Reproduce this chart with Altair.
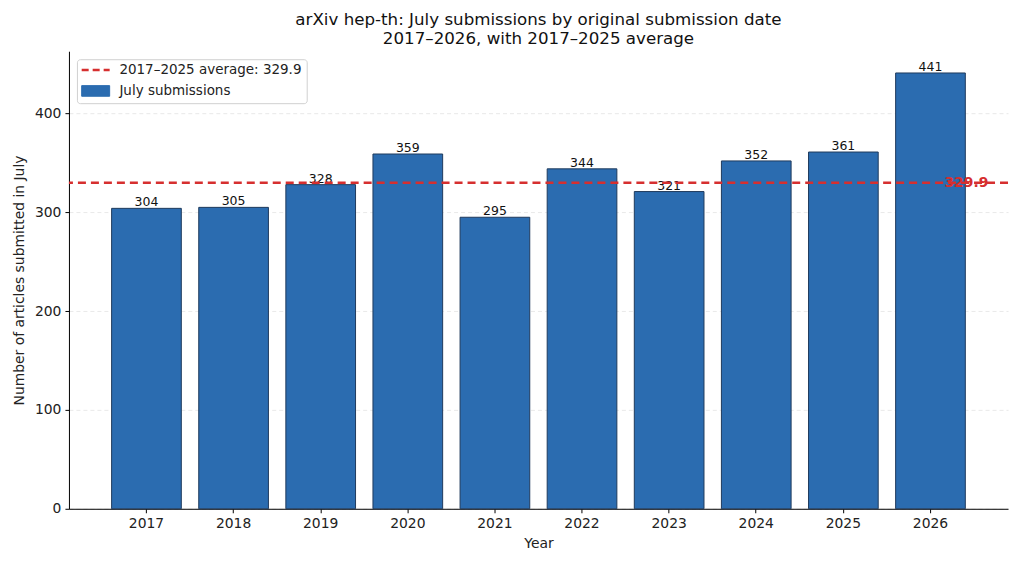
import altair as alt
import pandas as pd

years = ["2017", "2018", "2019", "2020", "2021", "2022", "2023", "2024", "2025", "2026"]
counts = [304, 305, 328, 359, 295, 344, 321, 352, 361, 441]
avg_value = 329.9
avg_label = "2017–2025 average: 329.9"
bar_label = "July submissions"

bars_df = pd.DataFrame({"Year": years, "count": counts, "series": bar_label})
avg_df = pd.DataFrame({"avg": [avg_value], "series": [avg_label], "Year": [years[-1]],
                       "txt": [f"{avg_value:.1f}"]})

FONT = "DejaVu Sans"
RED = "#d62f2f"
BLUE = "#2b6cb0"
EDGE = "#1f3a5c"

color_scale = alt.Scale(domain=[avg_label, bar_label], range=[RED, BLUE])

legend = alt.Legend(
    title=None,
    orient="top-left",
    offset=8,
    strokeColor="#d0d0d0",
    fillColor="white",
    cornerRadius=3,
    padding=4,
    rowPadding=6,
    labelFont=FONT,
    labelFontSize=13.5,
    labelColor="#222222",
    labelLimit=400,
    labelOffset=17,
    symbolSize=784,
    symbolOffset=8,
    symbolStrokeWidth=alt.ExprRef(expr=f"datum.label == '{bar_label}' ? 1 : 2.5"),
    symbolType=alt.ExprRef(
        expr=f"datum.label == '{bar_label}' ? 'M-1,-0.38L1,-0.38L1,0.38L-1,0.38Z' : 'M-1,0L1,0'"),
    symbolDash=alt.ExprRef(expr=f"datum.label == '{bar_label}' ? [] : [7, 4]"),
    symbolFillColor=alt.ExprRef(expr=f"datum.label == '{bar_label}' ? '{BLUE}' : 'transparent'"),
    symbolStrokeColor=alt.ExprRef(expr=f"datum.label == '{bar_label}' ? '{EDGE}' : '{RED}'"),
    symbolOpacity=1,
)

x_enc = alt.X("Year:N", sort=years,
              scale=alt.Scale(paddingInner=0.2, paddingOuter=0.49),
              axis=alt.Axis(title="Year", labelAngle=0, labelFont=FONT, labelFontSize=13.9,
                            titleFont=FONT, titleFontSize=13.9, titleFontWeight="normal",
                            titlePadding=6, labelPadding=4, tickSize=4, domainColor="black",
                            tickColor="black", labelColor="#222222", titleColor="#222222",
                            grid=False))

y_scale = alt.Scale(domain=[0, 463], nice=False)

bars = alt.Chart(bars_df).mark_bar(stroke=EDGE, strokeWidth=1).encode(
    x=x_enc,
    y=alt.Y("count:Q", scale=y_scale,
            axis=alt.Axis(title="Number of articles submitted in July", values=[0, 100, 200, 300, 400],
                          labelFont=FONT, labelFontSize=13.9, titleFont=FONT, titleFontSize=13.9,
                          titleFontWeight="normal", titlePadding=8, labelPadding=4, tickSize=4,
                          domainColor="black", tickColor="black", labelColor="#222222",
                          titleColor="#222222", grid=True, gridColor="#e3e3e3",
                          gridDash=[4, 3], gridWidth=0.8)),
    color=alt.Color("series:N", scale=color_scale, legend=legend),
)

labels = alt.Chart(bars_df).mark_text(baseline="bottom", dy=1, font=FONT, fontSize=12.5,
                                      color="#111111").encode(
    x=alt.X("Year:N", sort=years),
    y=alt.Y("count:Q"),
    text=alt.Text("count:Q"),
)

rule = alt.Chart(avg_df).mark_rule(strokeDash=[8, 5], strokeWidth=2.5).encode(
    y=alt.Y("avg:Q"),
    color=alt.Color("series:N", scale=color_scale, legend=legend),
)

avg_text = alt.Chart(avg_df).mark_text(align="left", baseline="middle", dx=14, font=FONT,
                                       fontSize=13.9, fontWeight="bold", color=RED).encode(
    x=alt.X("Year:N", sort=years),
    y=alt.Y("avg:Q"),
    text="txt:N",
)

chart = alt.layer(bars, labels, rule, avg_text).properties(
    width=940,
    height=458,
    background="white",
    title=alt.TitleParams(
        text=["arXiv hep-th: July submissions by original submission date",
              "2017–2026, with 2017–2025 average"],
        font=FONT, fontSize=16.7, fontWeight="normal", color="#111111",
        anchor="middle", offset=4, lineHeight=19),
    autosize=alt.AutoSizeParams(type="none"),
    padding={"left": 61, "top": 43, "right": 8, "bottom": 50},
).configure_view(strokeWidth=0, stroke="transparent")

chart.save("out.html", embed_options={"renderer": "svg", "actions": False})
